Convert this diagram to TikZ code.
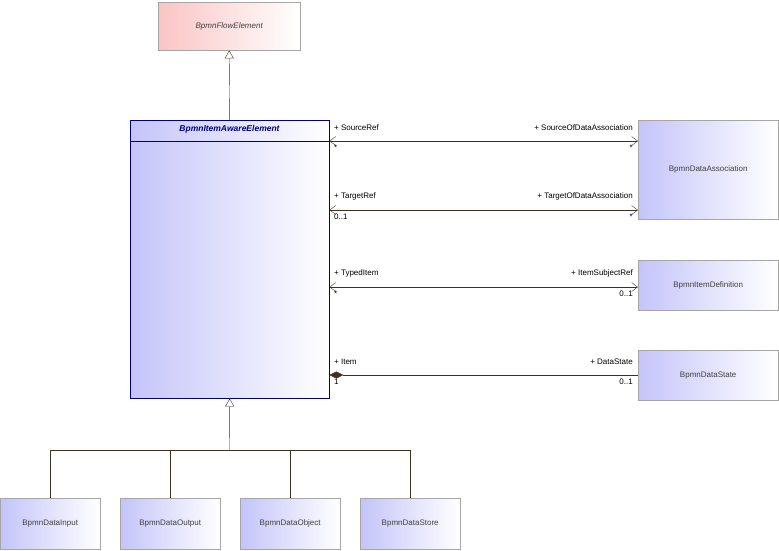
\documentclass[tikz,border=0pt]{standalone}
\usepackage{fontspec}
\setmainfont{Liberation Sans}
\usetikzlibrary{arrows.meta}
\definecolor{umlblue}{RGB}{196,196,250}
\definecolor{umlred}{RGB}{250,196,196}
\definecolor{umlline}{RGB}{64,48,32}
\begin{document}
\begin{tikzpicture}[x=1pt, y=-1pt,
    cls/.style={rectangle, draw=gray!70, left color=umlblue, right color=white, anchor=north west, inner sep=0pt, font=\fontsize{8}{9}\selectfont, text=black!75},
    assoc/.style={draw=umlline, {Straight Barb[length=6pt, width=9pt]}-{Straight Barb[length=6pt, width=9pt]}},
    gen/.style={draw=umlline, -{Triangle[open, length=8pt, width=9pt, fill=white]}},
    role/.style={font=\fontsize{8}{9}\selectfont, inner sep=1pt}
]
\useasboundingbox (0,0) rectangle (779,550);

% Klassen
\node[cls, left color=umlred, minimum width=142pt, minimum height=48pt, font=\fontsize{8}{9}\selectfont\itshape] (flow) at (158,2) {BpmnFlowElement};
\node[cls, draw=blue!50!black, minimum width=199pt, minimum height=278pt] (aware) at (130,120) {};
\node[anchor=north, font=\fontsize{8.5}{9}\selectfont\bfseries\itshape, text=blue!50!black] at (229.5,122) {BpmnItemAwareElement};
\draw[blue!50!black] (130,141) -- (329,141);

\node[cls, minimum width=140pt, minimum height=99pt] (assoc) at (638,120) {BpmnDataAssociation};
\node[cls, minimum width=140pt, minimum height=50pt] (itemdef) at (638,260) {BpmnItemDefinition};
\node[cls, minimum width=140pt, minimum height=50pt] (state) at (638,350) {BpmnDataState};

\foreach \nm/\x/\lbl in {input/0/BpmnDataInput, output/120/BpmnDataOutput, object/240/BpmnDataObject, store/360/BpmnDataStore}
  \node[cls, minimum width=100pt, minimum height=51pt] (\nm) at (\x,498) {\lbl};

% Vererbung
\draw[gen] (aware.north) -- (flow.south);
\coordinate (bus) at (229.5,450);
\draw[gen] (bus) -- (aware.south);
\foreach \nm in {input, output, object, store}
  \draw[umlline] (\nm.north) |- (bus);

% Assoziationen
\draw[assoc] (aware.east |- 0,141) -- (assoc.west |- 0,141);
\draw[assoc] (aware.east |- 0,210) -- (assoc.west |- 0,210);
\draw[assoc] (aware.east |- 0,287) -- (itemdef.west |- 0,287);
\draw[assoc, {Diamond[length=14pt, width=7pt, fill=umlline]}-] (aware.east |- 0,375) -- (state.west |- 0,375);

% Rollen
\foreach \y/\l/\r/\ml/\mr in {141/+ SourceRef/+ SourceOfDataAssociation/*/*, 210/+ TargetRef/+ TargetOfDataAssociation/0..1/*, 287/+ TypedItem/+ ItemSubjectRef/*/0..1, 375/+ Item/+ DataState/1/0..1} {
  \node[role, anchor=south west] at (333,\y-9) {\l};
  \node[role, anchor=south east] at (634,\y-9) {\r};
  \node[role, anchor=north west] at (333,\y+3) {\ml};
  \node[role, anchor=north east] at (634,\y+3) {\mr};
}
\end{tikzpicture}
\end{document}
